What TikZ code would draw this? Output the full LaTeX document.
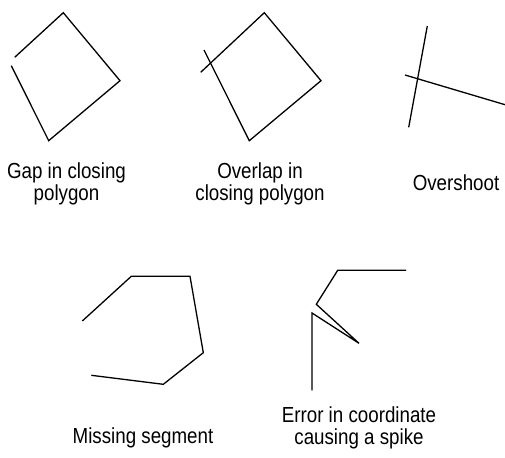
\documentclass[tikz,border=0pt]{standalone}
\usepackage{fontspec}
\setmainfont{Liberation Sans}[FakeStretch=0.86]
\tikzset{
  edge/.style={draw=black, line width=1.3pt, line join=miter},
  caption/.style={font=\fontsize{21.8}{22}\selectfont, align=center, anchor=base, inner sep=0pt},
}
\begin{document}
\begin{tikzpicture}[x=1pt, y=-1pt]
\useasboundingbox (0,0) rectangle (505,457);

% Gap in closing polygon
\draw[edge] (14.7,57.3) -- (63.3,12.7) -- (120,80.7) -- (48.7,140.7) -- (11.3,65.7);

% Overlap in closing polygon
\draw[edge] (200.7,72.3) -- (264.3,12.7) -- (321,80.7) -- (249.3,140.7) -- (204,50);

% Overshoot
\draw[edge] (427.3,26) -- (408.7,127.3);
\draw[edge] (405,75) -- (505,104.7);

% Missing segment
\draw[edge] (82.3,321) -- (131.3,276.3) -- (190,276.3) -- (203.3,352.7) -- (163.3,384.3) -- (91.3,375.3);

% Error in coordinate causing a spike
\draw[edge] (406,270.3) -- (337.7,270.3) -- (316.3,304.3) -- (359,343.3) -- (312,313) -- (312,390.3);

% Captions (anchor base = baseline of the last line)
\node[caption] (gap) at (66.5,200) {Gap in closing\\polygon};
\node[caption] (overlap) at (260,200) {Overlap in\\closing polygon};
\node[caption] (overshoot) at (456,190) {Overshoot};
\node[caption] (missing) at (143,443) {Missing segment};
\node[caption] (spike) at (359,444) {Error in coordinate\\causing a spike};
\end{tikzpicture}
\end{document}
